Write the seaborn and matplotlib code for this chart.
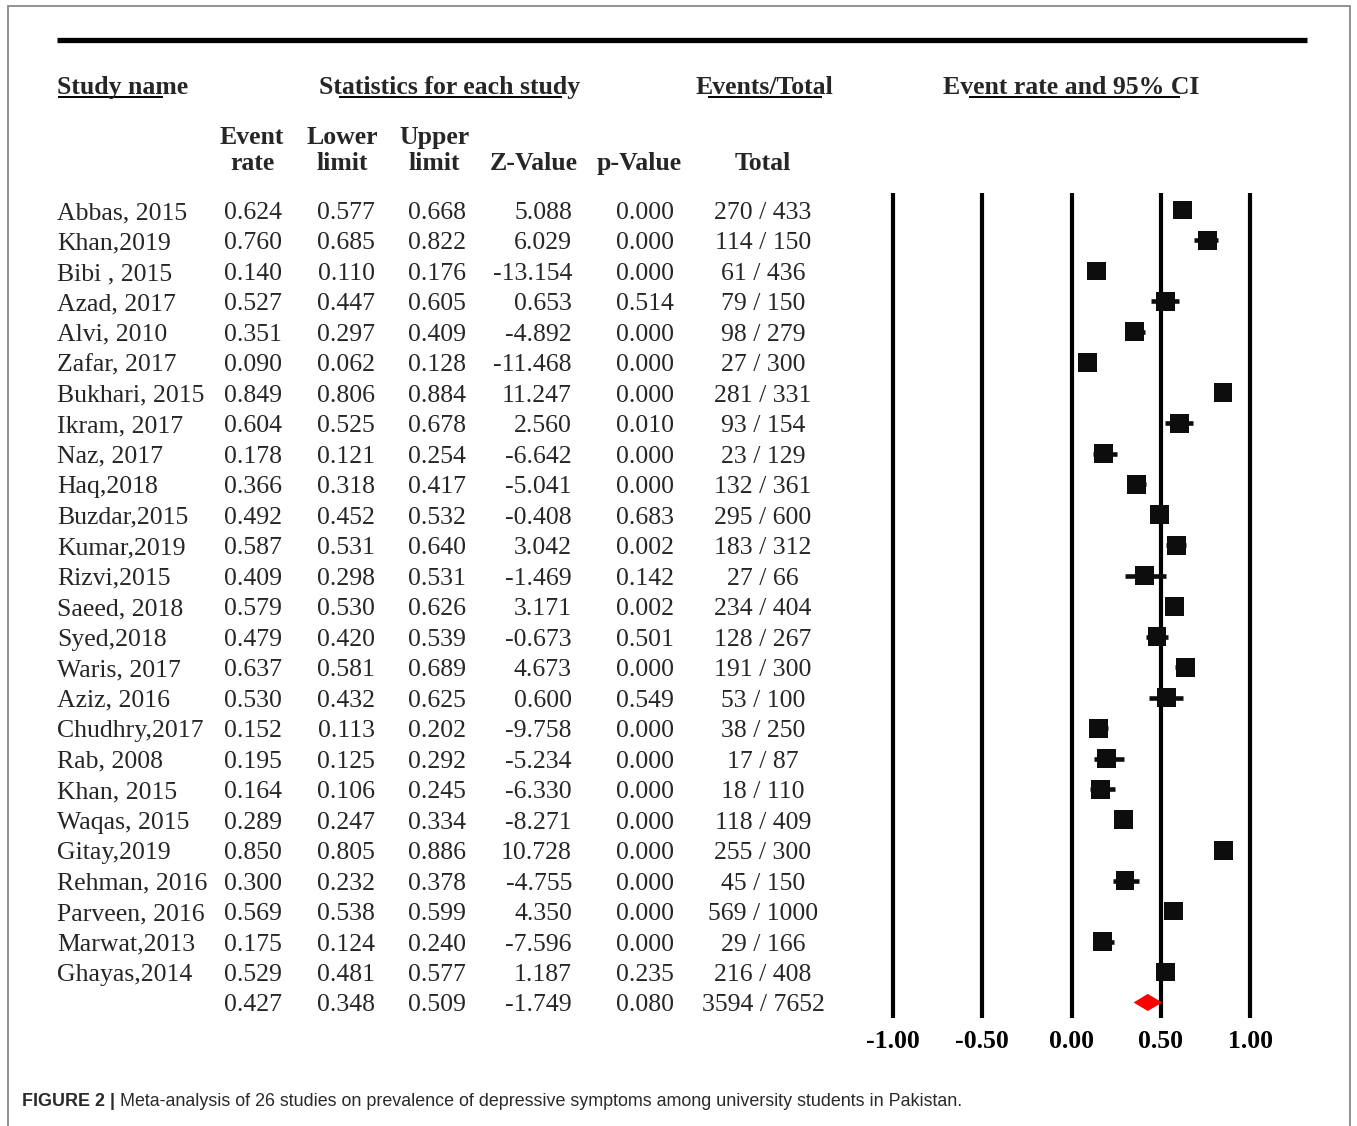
import matplotlib
matplotlib.use("Agg")
import matplotlib.pyplot as plt
import seaborn as sns
import pandas as pd
import numpy as np

# ---------------- data ----------------
studies = ["Abbas, 2015", "Khan,2019", "Bibi , 2015", "Azad, 2017", "Alvi, 2010",
           "Zafar, 2017", "Bukhari, 2015", "Ikram, 2017", "Naz, 2017", "Haq,2018",
           "Buzdar,2015", "Kumar,2019", "Rizvi,2015", "Saeed, 2018", "Syed,2018",
           "Waris, 2017", "Aziz, 2016", "Chudhry,2017", "Rab, 2008", "Khan, 2015",
           "Waqas, 2015", "Gitay,2019", "Rehman, 2016", "Parveen, 2016", "Marwat,2013",
           "Ghayas,2014"]
event_rate = [0.624, 0.760, 0.140, 0.527, 0.351, 0.090, 0.849, 0.604, 0.178, 0.366,
              0.492, 0.587, 0.409, 0.579, 0.479, 0.637, 0.530, 0.152, 0.195, 0.164,
              0.289, 0.850, 0.300, 0.569, 0.175, 0.529]
lower_limit = [0.577, 0.685, 0.110, 0.447, 0.297, 0.062, 0.806, 0.525, 0.121, 0.318,
               0.452, 0.531, 0.298, 0.530, 0.420, 0.581, 0.432, 0.113, 0.125, 0.106,
               0.247, 0.805, 0.232, 0.538, 0.124, 0.481]
upper_limit = [0.668, 0.822, 0.176, 0.605, 0.409, 0.128, 0.884, 0.678, 0.254, 0.417,
               0.532, 0.640, 0.531, 0.626, 0.539, 0.689, 0.625, 0.202, 0.292, 0.245,
               0.334, 0.886, 0.378, 0.599, 0.240, 0.577]
z_value = [5.088, 6.029, -13.154, 0.653, -4.892, -11.468, 11.247, 2.560, -6.642, -5.041,
           -0.408, 3.042, -1.469, 3.171, -0.673, 4.673, 0.600, -9.758, -5.234, -6.330,
           -8.271, 10.728, -4.755, 4.350, -7.596, 1.187]
p_value = [0.000, 0.000, 0.000, 0.514, 0.000, 0.000, 0.000, 0.010, 0.000, 0.000,
           0.683, 0.002, 0.142, 0.002, 0.501, 0.000, 0.549, 0.000, 0.000, 0.000,
           0.000, 0.000, 0.000, 0.000, 0.000, 0.235]
events = [270, 114, 61, 79, 98, 27, 281, 93, 23, 132, 295, 183, 27, 234, 128, 191, 53,
          38, 17, 18, 118, 255, 45, 569, 29, 216]
totals = [433, 150, 436, 150, 279, 300, 331, 154, 129, 361, 600, 312, 66, 404, 267, 300,
          100, 250, 87, 110, 409, 300, 150, 1000, 166, 408]

# pooled summary
sum_rate, sum_lower, sum_upper = 0.427, 0.348, 0.509
sum_z, sum_p = -1.749, 0.080
sum_events, sum_total = 3594, 7652

x_ticks = [-1.0, -0.5, 0.0, 0.5, 1.0]
x_ticklabels = ["-1.00", "-0.50", "0.00", "0.50", "1.00"]

caption_bold = "FIGURE 2 |"
caption_text = (" Meta-analysis of 26 studies on prevalence of depressive symptoms "
                "among university students in Pakistan.")

# ---------------- figure ----------------
sns.set_theme(style="white")
plt.rcParams["font.family"] = ["Liberation Serif", "DejaVu Serif"]

W, H = 1357, 1126
fig = plt.figure(figsize=(W / 100, H / 100), dpi=100)
fig.patch.set_facecolor("white")

# pixel overlay axes for the table text
bg = fig.add_axes([0, 0, 1, 1])
bg.set_xlim(0, W)
bg.set_ylim(H, 0)
bg.axis("off")

FS = 18.5
n = len(studies)
row0, step = 210.0, 30.48

# frame (gray border)
bg.plot([8, 8], [6, H + 5], color="#8a8a8a", lw=1.3)
bg.plot([8, 1350], [6, 6], color="#8a8a8a", lw=1.3)
bg.plot([1350, 1350], [6, H + 5], color="#8a8a8a", lw=1.3)

# thick top rule
bg.plot([57, 1307], [40, 40], color="black", lw=3.8, solid_capstyle="butt")

# top headers
hb = 94
bg.text(57, hb, "Study name", fontsize=FS, fontweight="bold", ha="left", va="baseline")
bg.text(450, hb, "Statistics for each study", fontsize=FS, fontweight="bold", ha="center", va="baseline")
bg.text(764, hb, "Events/Total", fontsize=FS, fontweight="bold", ha="center", va="baseline")
bg.text(1071, hb, "Event rate and 95% CI", fontsize=FS, fontweight="bold", ha="center", va="baseline")
for x1, x2 in [(58, 163), (339, 562), (708, 822), (969, 1180)]:
    bg.plot([x1, x2], [97, 97], color="black", lw=1.4, solid_capstyle="butt")

# column headers
col_centers = [252, 342, 434, 534, 639, 763]
line1 = ["Event", "Lower", "Upper", "", "", ""]
line2 = ["rate", "limit", "limit", "Z-Value", "p-Value", "Total"]
for cx, a, b in zip(col_centers, line1, line2):
    if a:
        bg.text(cx, 144, a, fontsize=FS, fontweight="bold", ha="center", va="baseline")
    bg.text(cx, 170, b, fontsize=FS, fontweight="bold", ha="center", va="baseline")

# table rows
right_edges = [282, 375, 466, 572, 674]
rows = list(zip(studies, event_rate, lower_limit, upper_limit, z_value, p_value, events, totals))
rows.append(("", sum_rate, sum_lower, sum_upper, sum_z, sum_p, sum_events, sum_total))
for i, (nm, er, ll, ul, z, p, ev, tt) in enumerate(rows):
    yb = row0 + step * i + 9
    if nm:
        bg.text(57, yb, nm, fontsize=FS, ha="left", va="baseline")
    for xr, v in zip(right_edges, [er, ll, ul, z, p]):
        bg.text(xr, yb, f"{v:.3f}", fontsize=FS, ha="right", va="baseline")
    bg.text(763, yb, f"{ev} / {tt}", fontsize=FS, ha="center", va="baseline")

# caption
CFS = 12.9
cap = bg.text(22, 1106, caption_bold, fontsize=CFS, fontweight="bold", ha="left",
              va="baseline", color="#2a2a2a", family=["Liberation Sans", "DejaVu Sans"])
bg.annotate(caption_text, xy=(1, 0), xycoords=cap, ha="left", va="bottom",
            fontsize=CFS, color="#2a2a2a", family=["Liberation Sans", "DejaVu Sans"])

# ---------------- forest plot axes ----------------
px_left, px_right, px_top, px_bot = 860, 1290, 193, 1018
ax = fig.add_axes([px_left / W, 1 - px_bot / H, (px_right - px_left) / W, (px_bot - px_top) / H])
ax.patch.set_alpha(0)
unit = (1250 - 893) / 2.0
ax.set_xlim((px_left - 893) / unit - 1, (px_right - 893) / unit - 1)
ax.set_ylim((px_bot - row0) / step, (px_top - row0) / step)
for s in ax.spines.values():
    s.set_visible(False)

for xv in x_ticks:
    ax.axvline(xv, color="black", lw=3.0, zorder=1)

df = pd.DataFrame({"study": studies, "rate": event_rate, "lo": lower_limit,
                   "hi": upper_limit, "row": np.arange(n)})
ax.hlines(df["row"], df["lo"], df["hi"], color="#0d0d0d", lw=3.3, zorder=2)
sns.scatterplot(data=df, x="rate", y="row", marker="s", s=185, color="#0d0d0d",
                edgecolor="none", linewidth=0, ax=ax, zorder=3, legend=False)

# summary diamond
yr = n
dh = 0.28
ax.fill([sum_lower, sum_rate, sum_upper, sum_rate], [yr, yr - dh, yr, yr + dh],
        color="#ff0000", lw=0, zorder=4)

ax.set_xticks(x_ticks)
ax.set_xticklabels(x_ticklabels, fontsize=FS, fontweight="bold")
ax.tick_params(axis="x", length=0, pad=8.5, colors="black")
ax.set_yticks([])
ax.set_xlabel("")
ax.set_ylabel("")
ax.grid(False)

fig.savefig("out.png", dpi=100, facecolor="white")
